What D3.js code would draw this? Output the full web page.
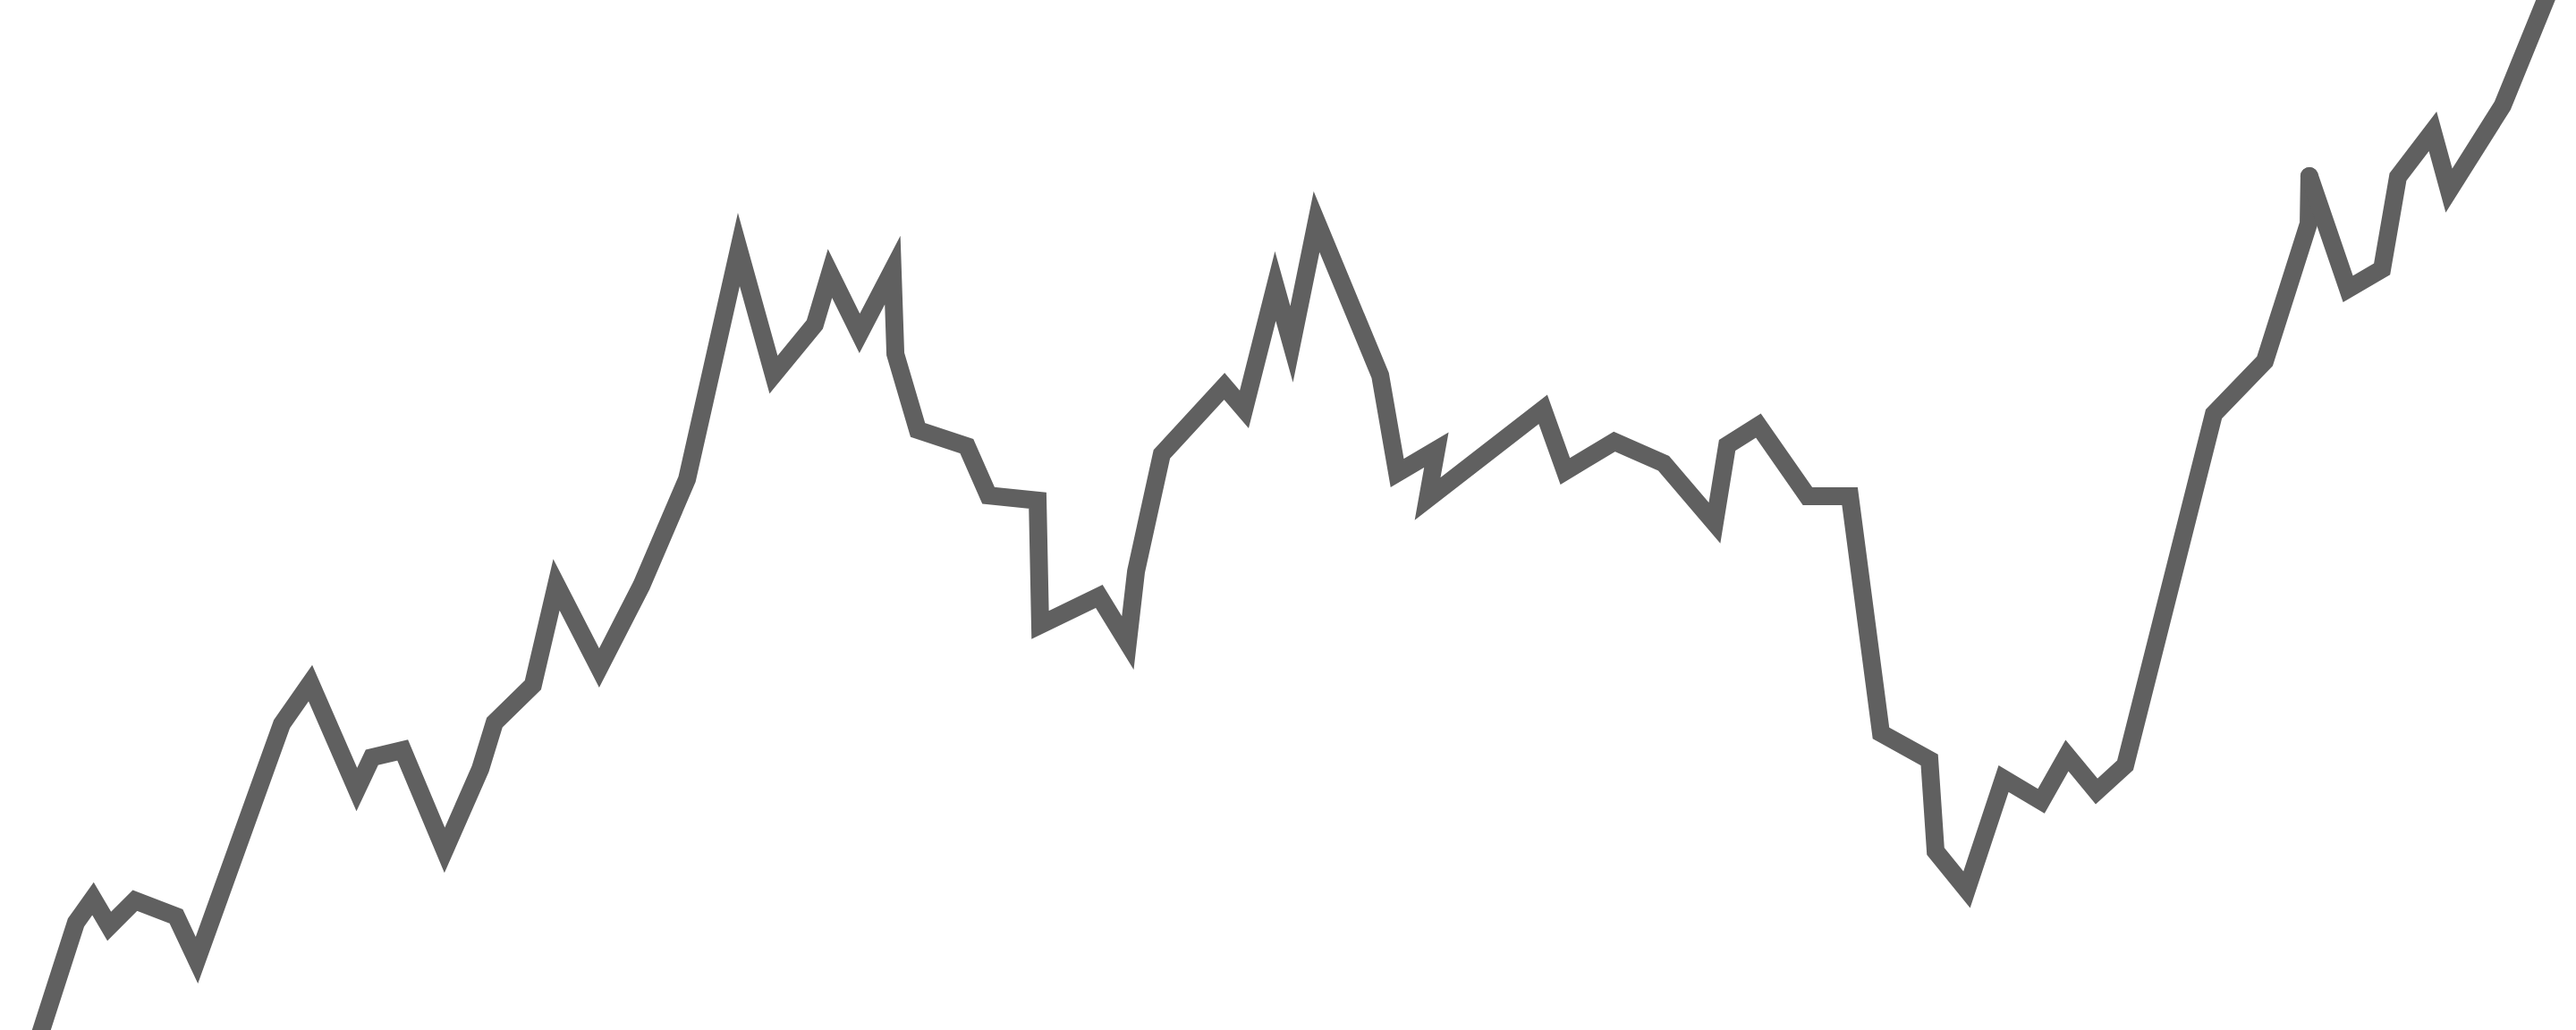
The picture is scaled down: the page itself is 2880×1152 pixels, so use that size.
<!DOCTYPE html>
<html>
<head>
<meta charset="utf-8">
<script src="https://cdn.jsdelivr.net/npm/d3@7"></script>
<style>
  html, body { margin: 0; padding: 0; background: #ffffff; }
  svg { display: block; }
</style>
</head>
<body>
<script>
// Path vertices (x value, y value)
const xValues = [13.5, 29.5, 36.1, 42.4, 52.4, 68.4, 76.4, 109.4, 120.5, 138.5,
  144.4, 156.3, 172.6, 186.5, 192.0, 206.9, 216.0, 232.6, 249.0, 266.7,
  286.8, 300.3, 316.3, 322.2, 333.7, 346.5, 347.6, 356.3, 375.3, 383.7,
  402.8, 403.8, 426.7, 437.8, 441.0, 451.0, 475.3, 483.0, 495.1, 501.4,
  511.1, 535.8, 542.4, 557.6, 554.2, 599.0, 607.6, 626.7, 645.8, 665.6,
  670.5, 682.6, 701.7, 718.1, 730.2, 749.0, 751.4, 763.5, 777.8, 792.4,
  802.4, 813.9, 825.0, 859.4, 879.2, 896.2, 896.5, 911.5, 924.7, 930.9,
  944.4, 950.7, 971.5, 991.0];
const yValues = [-8.0, 41.7, 51.0, 40.3, 50.3, 44.1, 27.1, 118.8, 134.7, 93.4,
  105.9, 108.7, 69.8, 101.5, 119.4, 134.0, 172.9, 140.6, 172.6, 213.9,
  303.1, 254.5, 274.0, 293.8, 270.5, 295.1, 262.5, 233.0, 226.7, 207.6,
  205.6, 157.3, 168.4, 150.3, 178.1, 223.6, 250.0, 241.0, 288.9, 266.3,
  313.9, 254.2, 216.3, 225.3, 206.3, 241.0, 217.0, 228.5, 220.1, 196.9,
  227.1, 234.7, 207.3, 207.3, 115.3, 104.9, 69.4, 54.5, 97.6, 88.9,
  106.6, 92.7, 102.8, 239.2, 259.7, 313.2, 331.6, 287.8, 295.5, 331.3,
  349.0, 326.0, 359.0, 406.9];
// index where the stroke is split into two pieces (round caps meet there)
const breakIndex = 66;

const xDomain = [0, 1000];
const yDomain = [0, 400];

const W = 2880, H = 1152;
const svg = d3.select("body").append("svg")
  .attr("width", W).attr("height", H)
  .attr("viewBox", `0 0 ${W} ${H}`);

svg.append("rect").attr("width", W).attr("height", H).attr("fill", "#ffffff");

const x = d3.scaleLinear().domain(xDomain).range([0, W]);
const y = d3.scaleLinear().domain(yDomain).range([H, 0]);

const pts = xValues.map((v, i) => [v, yValues[i]]);
const line = d3.line().x(d => x(d[0])).y(d => y(d[1])).curve(d3.curveLinear);

const pieces = [pts.slice(0, breakIndex + 1), pts.slice(breakIndex)];

svg.append("g").selectAll("path")
  .data(pieces)
  .join("path")
  .attr("d", line)
  .attr("fill", "none")
  .attr("stroke", "#606060")
  .attr("stroke-width", 20)
  .attr("stroke-linejoin", "miter")
  .attr("stroke-miterlimit", 10)
  .attr("stroke-linecap", "round");
</script>
</body>
</html>
